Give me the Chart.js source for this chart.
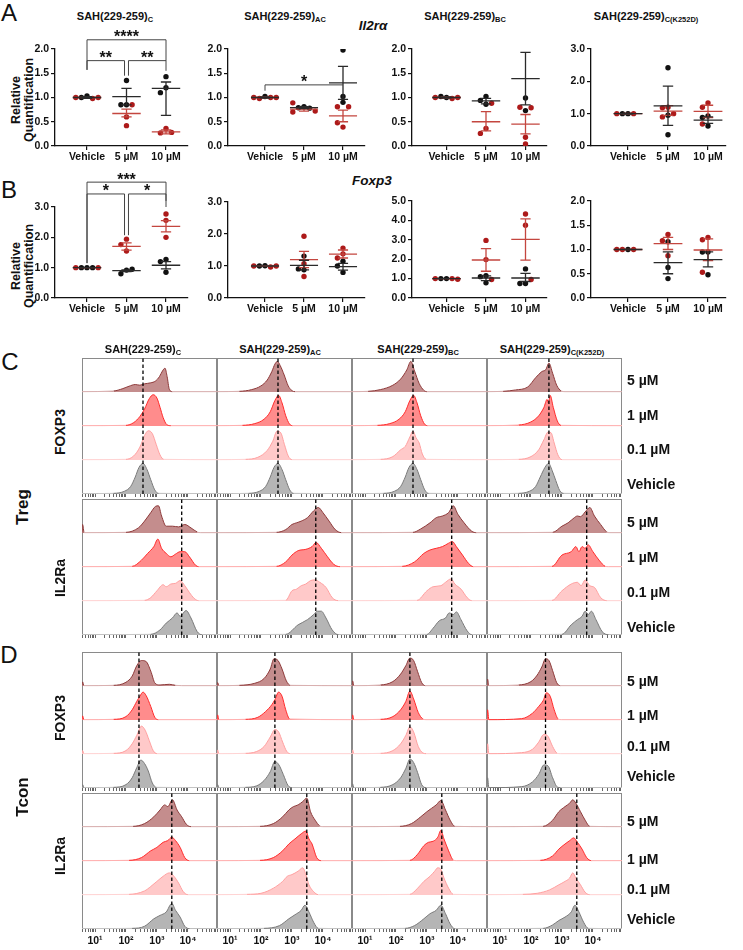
<!DOCTYPE html>
<html lang="en">
<head>
<meta charset="UTF-8">
<title>SAH(229-259) peptides: Il2ra / Foxp3</title>
<script src="https://cdn.jsdelivr.net/npm/chart.js"></script>
<style>
  body { margin: 0; width: 743px; height: 950px; position: relative; background: #fff; overflow: hidden;
         font-family: "Liberation Sans", Arial, sans-serif; color: #111; }
  canvas { position: absolute; }
  .t { position: absolute; white-space: nowrap; font-weight: bold; transform: translate(-50%, -50%); line-height: 1; }
  .t sub { font-size: 0.68em; vertical-align: -0.25em; }
  .rot { transform: translate(-50%, -50%) rotate(-90deg); }
  .letter { font-weight: normal; font-size: 24px; }
</style>
</head>
<body>
<script>
// ---------- data: qPCR relative quantification (A: Il2ra, B: Foxp3) ----------
const doseLabels = ['Vehicle', '5 µM', '10 µM'];
const peptideNames = ['C', 'AC', 'BC', 'C(K252D)'];

// each category: values of the black and the red experiment; Sem rows = [mean, upper, lower]
const il2raC_black = [[1.03, 1.0], [1.35, 0.85, 0.85], [1.43, 1.2, 1.1]];
const il2raC_red = [[0.98, 1.0, 1.0], [0.85, 0.6, 0.42], [0.36, 0.27, 0.28]];
const il2raC_blackSem = [[1.0, 1.02, 0.98], [1.02, 1.19, 0.85], [1.19, 1.32, 0.63]];
const il2raC_redSem = [[1.0, 1.01, 0.99], [0.67, 0.76, 0.6], [0.29, 0.33, 0.25]];

const il2raAC_black = [[1.02], [0.81, 0.79, 0.78], [1.98, 1.02, 0.9]];
const il2raAC_red = [[0.98, 1.0, 1.0, 1.0], [0.89, 0.7, 0.72], [0.81, 0.81, 0.39, 0.48]];
const il2raAC_blackSem = [[1.0, 1.01, 0.99], [0.79, 0.81, 0.77], [1.3, 1.64, 0.96]];
const il2raAC_redSem = [[1.0, 1.01, 0.99], [0.76, 0.8, 0.72], [0.62, 0.74, 0.5]];

const il2raBC_black = [[1.0, 1.02], [1.02, 0.94, 0.86], [0.99, 0.73]];
const il2raBC_red = [[0.98, 1.0, 1.0], [0.88, 0.36, 0.26], [0.8, 0.79, 0.18, 0.04]];
const il2raBC_blackSem = [[1.0, 1.01, 0.99], [0.93, 0.98, 0.87], [1.39, 1.93, 0.85]];
const il2raBC_redSem = [[1.0, 1.01, 0.99], [0.5, 0.71, 0.31], [0.45, 0.65, 0.25]];

const il2raK_black = [[1.0, 1.0], [2.42, 0.95, 0.35], [0.93, 0.88, 0.62]];
const il2raK_red = [[1.0, 1.0], [1.2, 1.18, 0.9, 1.0], [1.33, 1.2, 0.68]];
const il2raK_blackSem = [[1.0, 1.01, 0.99], [1.24, 1.85, 0.64], [0.8, 0.9, 0.7]];
const il2raK_redSem = [[1.0, 1.01, 0.99], [1.08, 1.25, 0.95], [1.07, 1.26, 0.88]];

const foxp3C_black = [[1.0, 1.0, 1.0], [0.92, 0.8, 0.95], [1.27, 1.2, 0.85]];
const foxp3C_red = [[1.0, 1.0], [1.94, 1.76, 1.55], [2.77, 2.56, 2.0]];
const foxp3C_blackSem = [[1.0, 1.0, 1.0], [0.9, 0.93, 0.87], [1.08, 1.2, 0.96]];
const foxp3C_redSem = [[1.0, 1.0, 1.0], [1.7, 1.82, 1.58], [2.36, 2.55, 2.18]];

const foxp3AC_black = [[1.01, 1.0], [1.31, 0.88, 0.91], [1.15, 1.0, 0.8]];
const foxp3AC_red = [[0.97, 1.0, 1.0], [1.93, 0.67, 1.07], [1.56, 1.38, 1.25]];
const foxp3AC_blackSem = [[1.0, 1.0, 1.0], [1.02, 1.18, 0.88], [0.98, 1.08, 0.87]];
const foxp3AC_redSem = [[1.0, 1.0, 1.0], [1.2, 1.46, 0.95], [1.37, 1.5, 1.25]];

const foxp3BC_black = [[1.0, 1.0], [1.15, 1.1, 0.78], [1.5, 0.75, 0.75]];
const foxp3BC_red = [[1.0, 1.0, 0.97], [2.97, 1.98, 0.95], [4.33, 3.75, 0.95]];
const foxp3BC_blackSem = [[1.0, 1.0, 1.0], [1.03, 1.14, 0.9], [1.03, 1.27, 0.85]];
const foxp3BC_redSem = [[1.0, 1.0, 1.0], [1.96, 2.55, 1.38], [3.02, 4.08, 1.95]];

const foxp3K_black = [[1.0], [1.16, 0.63, 0.4], [0.95, 0.95, 0.48]];
const foxp3K_red = [[1.0, 1.0, 1.0], [1.31, 1.18, 0.87], [1.25, 1.2, 0.53]];
const foxp3K_blackSem = [[1.0, 1.0, 1.0], [0.73, 0.95, 0.5], [0.79, 0.95, 0.64]];
const foxp3K_redSem = [[1.0, 1.0, 1.0], [1.12, 1.25, 1.0], [0.99, 1.22, 0.77]];

// significance brackets: [label, from, to, level, leg bottom at from, leg bottom at to]
const il2raC_brackets = [['****', 0, 2, 2.19, 1.57, 1.55], ['**', 0, 1, 1.76, 1.57, 1.45], ['**', 1, 2, 1.76, 1.45, 1.76]];
const il2raAC_brackets = [['*', 0, 2, 1.26, 1.14, 1.26]];
const foxp3C_brackets = [['***', 0, 2, 3.82, 1.15, 3.2], ['*', 0, 1, 3.43, 1.15, 2.07], ['*', 1, 2, 3.43, 2.07, 3.0]];

// ---------- data: flow histograms, x = log10 intensity, h = modal height; rows 5 µM, 1 µM, 0.1 µM, Vehicle ----------
const histRows = ['5 µM', '1 µM', '0.1 µM', 'Vehicle'];
const tregFoxp3_C = [
  [1.6,.03, 1.9,.1, 2.1,.17, 2.3,.22, 2.45,.2, 2.6,.24, 2.8,.27, 2.95,.32, 3.08,.45, 3.18,.62, 3.26,.7, 3.33,.45, 3.4,.08, 3.5,.01],
  [2.0,.02, 2.25,.1, 2.45,.28, 2.6,.5, 2.75,.8, 2.88,.92, 3.0,.82, 3.1,.55, 3.2,.25, 3.32,.04, 3.45,.01],
  [2.0,.02, 2.25,.12, 2.45,.38, 2.6,.72, 2.72,.86, 2.85,.78, 2.98,.45, 3.1,.15, 3.22,.02],
  [1.6,.02, 1.95,.08, 2.15,.22, 2.3,.5, 2.42,.78, 2.55,.9, 2.68,.72, 2.8,.42, 2.93,.12, 3.05,.02]];
const tregFoxp3_AC = [
  [1.3,.02, 1.7,.07, 2.0,.18, 2.2,.35, 2.35,.6, 2.45,.82, 2.53,.9, 2.62,.78, 2.75,.5, 2.88,.18, 3.0,.04, 3.1,.01],
  [1.4,.02, 1.8,.07, 2.1,.2, 2.3,.42, 2.45,.75, 2.57,.9, 2.68,.68, 2.8,.3, 2.92,.06, 3.02,.01],
  [1.5,.02, 1.9,.08, 2.2,.28, 2.38,.55, 2.52,.85, 2.64,.8, 2.76,.45, 2.88,.12, 3.0,.01],
  [1.6,.02, 1.95,.08, 2.15,.22, 2.3,.5, 2.42,.78, 2.55,.9, 2.68,.72, 2.8,.42, 2.93,.12, 3.05,.02]];
const tregFoxp3_BC = [
  [1.1,.02, 1.5,.07, 1.9,.2, 2.15,.38, 2.35,.65, 2.48,.9, 2.6,.62, 2.75,.25, 2.9,.05, 3.0,.01],
  [1.4,.02, 1.8,.07, 2.1,.2, 2.3,.42, 2.45,.75, 2.57,.9, 2.68,.68, 2.8,.3, 2.92,.06, 3.02,.01],
  [1.5,.02, 1.9,.1, 2.15,.3, 2.3,.4, 2.45,.68, 2.55,.85, 2.65,.65, 2.75,.5, 2.85,.18, 2.98,.02],
  [1.6,.02, 1.95,.08, 2.15,.22, 2.3,.5, 2.42,.78, 2.55,.9, 2.68,.72, 2.8,.42, 2.93,.12, 3.05,.02]];
const tregFoxp3_K = [
  [1.1,.02, 1.5,.06, 1.9,.15, 2.15,.42, 2.35,.6, 2.48,.66, 2.58,.85, 2.7,.55, 2.83,.2, 2.98,.03, 3.1,.01],
  [1.6,.03, 2.0,.12, 2.25,.3, 2.42,.55, 2.52,.78, 2.56,.68, 2.62,.9, 2.72,.55, 2.85,.15, 2.97,.02],
  [1.6,.02, 2.0,.1, 2.25,.3, 2.42,.6, 2.55,.82, 2.65,.8, 2.75,.5, 2.87,.15, 3.0,.01],
  [1.6,.02, 1.95,.08, 2.15,.22, 2.3,.5, 2.45,.78, 2.57,.9, 2.68,.7, 2.8,.4, 2.93,.1, 3.05,.02]];

const tregIl2ra_C = [
  [0.6,.25, 0.65,.01, 2.0,.02, 2.4,.15, 2.6,.35, 2.8,.6, 2.95,.78, 3.05,.8, 3.15,.5, 3.3,.2, 3.5,.2, 3.7,.18, 3.9,.25, 4.1,.15, 4.3,.03, 4.4,.01],
  [2.2,.02, 2.5,.2, 2.7,.4, 2.9,.6, 3.03,.82, 3.15,.55, 3.3,.4, 3.45,.3, 3.6,.38, 3.75,.45, 3.9,.45, 4.05,.3, 4.25,.05, 4.35,.01],
  [2.6,.02, 2.8,.1, 3.0,.3, 3.2,.48, 3.3,.42, 3.45,.5, 3.6,.52, 3.75,.6, 3.9,.45, 4.05,.25, 4.2,.08, 4.35,.01],
  [2.8,.02, 3.1,.15, 3.3,.35, 3.5,.5, 3.65,.65, 3.75,.55, 3.94,.72, 4.1,.5, 4.3,.1, 4.45,.01]];
const tregIl2ra_AC = [
  [2.5,.02, 2.8,.1, 3.0,.25, 3.15,.3, 3.3,.35, 3.5,.45, 3.7,.65, 3.85,.75, 4.0,.6, 4.2,.35, 4.4,.1, 4.6,.01],
  [2.5,.02, 2.8,.15, 3.0,.35, 3.2,.48, 3.45,.52, 3.65,.6, 3.78,.72, 3.95,.55, 4.15,.3, 4.35,.08, 4.55,.01],
  [2.8,.02, 3.0,.3, 3.15,.35, 3.3,.45, 3.45,.5, 3.6,.6, 3.75,.62, 3.9,.55, 4.1,.4, 4.3,.1, 4.5,.01],
  [2.8,.02, 3.2,.3, 3.5,.45, 3.7,.6, 3.82,.7, 3.95,.7, 4.1,.5, 4.3,.15, 4.5,.01]];
const tregIl2ra_BC = [
  [2.55,.02, 2.8,.12, 3.1,.3, 3.3,.45, 3.5,.5, 3.7,.6, 3.85,.8, 4.0,.55, 4.2,.3, 4.45,.05, 4.6,.01],
  [2.2,.02, 2.6,.15, 2.9,.4, 3.1,.5, 3.3,.55, 3.5,.6, 3.7,.7, 3.82,.75, 3.95,.6, 4.15,.35, 4.35,.1, 4.5,.01],
  [2.68,.02, 3.0,.3, 3.2,.42, 3.45,.45, 3.6,.55, 3.78,.65, 3.9,.5, 4.1,.35, 4.3,.1, 4.45,.01],
  [3.0,.02, 3.2,.2, 3.4,.42, 3.6,.5, 3.72,.65, 3.85,.6, 3.95,.68, 4.1,.45, 4.3,.12, 4.45,.01]];
const tregIl2ra_K = [
  [2.7,.02, 3.0,.2, 3.2,.3, 3.4,.45, 3.5,.5, 3.6,.48, 3.75,.62, 3.9,.75, 4.05,.5, 4.25,.25, 4.45,.03, 4.55,.01],
  [2.68,.02, 3.0,.35, 3.3,.45, 3.45,.6, 3.55,.45, 3.65,.6, 3.75,.55, 3.85,.65, 4.0,.45, 4.2,.2, 4.4,.02, 4.5,.01],
  [2.68,.02, 3.0,.3, 3.3,.5, 3.5,.55, 3.62,.45, 3.75,.62, 3.9,.45, 4.05,.4, 4.25,.1, 4.45,.01],
  [3.0,.02, 3.3,.3, 3.5,.45, 3.65,.55, 3.75,.7, 3.85,.6, 3.95,.7, 4.1,.45, 4.3,.1, 4.5,.01]];

const tconFoxp3_C = [
  [0.6,.12, 0.64,.01, 1.6,.02, 2.0,.11, 2.2,.29, 2.35,.6, 2.5,.75, 2.65,.72, 2.8,.44, 2.94,.08, 3.1,.03, 3.4,.05, 3.6,.02, 3.8,.01],
  [0.6,.12, 0.64,.01, 1.6,.02, 2.0,.1, 2.2,.3, 2.35,.55, 2.45,.7, 2.55,.82, 2.65,.72, 2.8,.4, 2.93,.08, 3.05,.01],
  [0.6,.1, 0.64,.01, 1.6,.02, 2.0,.1, 2.2,.3, 2.35,.55, 2.5,.82, 2.62,.7, 2.75,.4, 2.88,.1, 3.0,.01],
  [0.6,.1, 0.64,.01, 1.6,.02, 2.0,.1, 2.2,.3, 2.35,.6, 2.48,.82, 2.6,.72, 2.72,.5, 2.85,.15, 2.98,.02]];
const tconFoxp3_AC = [
  [0.6,.1, 0.64,.01, 1.3,.02, 1.8,.08, 2.1,.22, 2.3,.5, 2.42,.8, 2.55,.75, 2.68,.5, 2.82,.15, 2.95,.02],
  [0.6,.15, 0.64,.01, 1.5,.02, 1.9,.08, 2.15,.25, 2.35,.45, 2.45,.6, 2.57,.82, 2.68,.7, 2.8,.3, 2.93,.03],
  [0.6,.12, 0.64,.01, 1.5,.02, 1.85,.07, 2.1,.22, 2.3,.5, 2.45,.72, 2.57,.65, 2.7,.35, 2.83,.08, 2.95,.01],
  [0.6,.1, 0.64,.01, 1.5,.02, 1.85,.06, 2.1,.22, 2.3,.48, 2.45,.78, 2.58,.68, 2.72,.4, 2.87,.08, 3.0,.01]];
const tconFoxp3_BC = [
  [0.6,.15, 0.64,.01, 1.5,.03, 1.9,.13, 2.15,.35, 2.32,.6, 2.45,.82, 2.57,.75, 2.7,.42, 2.83,.1, 2.95,.01],
  [0.6,.15, 0.64,.01, 1.5,.02, 1.9,.1, 2.15,.3, 2.32,.55, 2.45,.85, 2.57,.62, 2.72,.22, 2.87,.03, 2.97,.01],
  [0.6,.12, 0.64,.01, 1.5,.02, 1.9,.1, 2.15,.3, 2.32,.55, 2.45,.8, 2.57,.65, 2.72,.22, 2.87,.03, 2.97,.01],
  [0.6,.12, 0.64,.01, 1.5,.02, 1.9,.1, 2.15,.3, 2.32,.58, 2.45,.85, 2.57,.75, 2.7,.45, 2.83,.1, 2.97,.01]];
const tconFoxp3_K = [
  [0.6,.2, 0.64,.01, 1.6,.03, 2.0,.13, 2.2,.32, 2.35,.56, 2.47,.8, 2.58,.75, 2.7,.45, 2.83,.1, 2.95,.01],
  [0.6,.3, 0.64,.01, 1.7,.04, 2.05,.2, 2.25,.4, 2.4,.58, 2.5,.8, 2.62,.7, 2.75,.3, 2.88,.03, 2.98,.01],
  [0.6,.3, 0.64,.01, 1.7,.04, 2.05,.14, 2.25,.35, 2.42,.58, 2.55,.52, 2.7,.22, 2.85,.02, 2.95,.01],
  [0.6,.3, 0.64,.01, 1.7,.04, 2.05,.18, 2.25,.4, 2.42,.68, 2.55,.65, 2.7,.3, 2.85,.03, 2.95,.01]];

const tconIl2ra_C = [
  [2.23,.02, 2.6,.1, 2.9,.3, 3.1,.5, 3.25,.65, 3.35,.6, 3.5,.8, 3.65,.5, 3.8,.3, 3.95,.08, 4.1,.01],
  [2.1,.02, 2.5,.1, 2.8,.3, 3.0,.4, 3.2,.55, 3.35,.6, 3.48,.7, 3.6,.6, 3.75,.4, 3.9,.1, 4.05,.01],
  [2.1,.02, 2.6,.12, 2.8,.25, 3.0,.4, 3.2,.55, 3.4,.65, 3.55,.55, 3.7,.35, 3.85,.1, 4.0,.01],
  [2.2,.02, 2.6,.08, 2.9,.3, 3.1,.4, 3.3,.5, 3.48,.75, 3.6,.55, 3.75,.35, 3.9,.08, 4.05,.01]];
const tconIl2ra_AC = [
  [1.97,.02, 2.4,.1, 2.7,.3, 2.9,.5, 3.05,.6, 3.2,.65, 3.35,.75, 3.48,.85, 3.6,.45, 3.75,.2, 3.9,.03, 4.0,.01],
  [1.97,.02, 2.4,.1, 2.7,.3, 2.9,.5, 3.1,.65, 3.3,.8, 3.45,.88, 3.55,.65, 3.65,.5, 3.8,.1, 3.95,.01],
  [1.55,.02, 2.0,.05, 2.4,.2, 2.7,.4, 2.85,.55, 3.0,.6, 3.2,.7, 3.35,.8, 3.45,.6, 3.55,.3, 3.7,.1, 3.85,.01],
  [2.1,.02, 2.6,.1, 2.9,.3, 3.1,.42, 3.3,.55, 3.42,.7, 3.55,.5, 3.7,.2, 3.85,.02]];
const tconIl2ra_BC = [
  [2.13,.02, 2.5,.1, 2.8,.3, 3.0,.45, 3.15,.55, 3.3,.65, 3.45,.78, 3.6,.5, 3.75,.2, 3.9,.02],
  [2.45,.02, 2.7,.2, 2.9,.45, 3.05,.55, 3.2,.58, 3.35,.7, 3.45,.9, 3.55,.65, 3.7,.3, 3.85,.03, 3.95,.01],
  [2.45,.02, 2.7,.2, 2.9,.4, 3.1,.55, 3.25,.7, 3.35,.8, 3.45,.75, 3.55,.5, 3.7,.2, 3.85,.02],
  [2.3,.02, 2.6,.1, 2.9,.3, 3.1,.45, 3.3,.55, 3.45,.7, 3.6,.45, 3.75,.15, 3.9,.01]];
const tconIl2ra_K = [
  [2.39,.02, 2.7,.2, 2.9,.45, 3.1,.6, 3.25,.7, 3.35,.8, 3.45,.7, 3.6,.45, 3.75,.2, 3.9,.02],
  [2.3,.02, 2.7,.15, 2.9,.35, 3.1,.5, 3.25,.6, 3.38,.68, 3.5,.55, 3.65,.35, 3.8,.1, 3.95,.01],
  [1.74,.02, 2.2,.05, 2.6,.15, 2.9,.3, 3.1,.4, 3.25,.5, 3.35,.65, 3.45,.5, 3.6,.3, 3.75,.08, 3.9,.01],
  [2.4,.02, 2.7,.12, 2.9,.25, 3.1,.35, 3.3,.5, 3.42,.7, 3.55,.5, 3.7,.2, 3.85,.02]];

// median markers (dashed lines), one per peptide column
const tregFoxp3_median = [2.55, 2.55, 2.55, 2.58];
const tregIl2ra_median = [3.8, 3.77, 3.8, 3.8];
const tconFoxp3_median = [2.42, 2.45, 2.45, 2.47];
const tconIl2ra_median = [3.48, 3.48, 3.48, 3.48];
const flowDecades = ['10⁰', '10¹', '10²', '10³', '10⁴'];

// ---------- layout ----------
Chart.defaults.font.family = '"Liberation Sans", Arial, sans-serif';
Chart.defaults.color = '#111';

const colAxis = [55, 228, 412, 591];
const colVeh = [87, 265, 446.5, 628];
const colUnit = [39.5, 39, 39.5, 40];
const colRight = [188, 365, 547, 726];

function txt(html, x, y, size, extra) {
  const d = document.createElement('div');
  d.className = 't' + (extra ? ' ' + extra : '');
  d.style.left = x + 'px';
  d.style.top = y + 'px';
  d.style.fontSize = size + 'px';
  d.innerHTML = html;
  document.body.appendChild(d);
  return d;
}

// spread equal-ish values sideways like a Prism scatter dot plot
function swarm(black, red, ypx, xpx) {
  const out = { black: [], red: [] };
  const d = 5.6;
  [0, 1, 2].forEach(c => {
    const placed = [];
    [['black', black[c]], ['red', red[c]]].forEach(([key, vals]) => {
      vals.forEach(v => {
        let k = 0, off = 0;
        while (true) {
          off = (k % 2 ? -1 : 1) * Math.ceil(k / 2) * d;
          const ok = placed.every(p => Math.hypot(p[0] - off, (p[1] - v) * ypx) >= d);
          if (ok || k > 10) break;
          k++;
        }
        placed.push([off, v]);
        out[key].push({ x: c + off / xpx, y: v });
      });
    });
  });
  return out;
}

const semPlugin = {
  id: 'sem',
  afterDatasetsDraw(chart, args, o) {
    const { ctx, scales: { x, y } } = chart;
    ctx.save();
    ctx.lineWidth = 1.3;
    o.groups.forEach(g => {
      ctx.strokeStyle = g.color;
      g.stats.forEach(([m, hi, lo], i) => {
        const cx = x.getPixelForValue(i);
        const hw = x.getPixelForValue(i + 0.36) - cx;
        const cw = x.getPixelForValue(i + 0.13) - cx;
        ctx.beginPath();
        ctx.moveTo(cx - hw, y.getPixelForValue(m)); ctx.lineTo(cx + hw, y.getPixelForValue(m));
        ctx.moveTo(cx, y.getPixelForValue(lo)); ctx.lineTo(cx, y.getPixelForValue(hi));
        ctx.moveTo(cx - cw, y.getPixelForValue(hi)); ctx.lineTo(cx + cw, y.getPixelForValue(hi));
        ctx.moveTo(cx - cw, y.getPixelForValue(lo)); ctx.lineTo(cx + cw, y.getPixelForValue(lo));
        ctx.stroke();
      });
    });
    ctx.strokeStyle = '#444';
    ctx.fillStyle = '#111';
    ctx.lineWidth = 1;
    ctx.font = 'bold 16px "Liberation Sans", Arial';
    ctx.textAlign = 'center';
    (o.brackets || []).forEach(([label, a, b, lev, loA, loB]) => {
      const xa = x.getPixelForValue(a + (a === 1 ? 0.05 : 0));
      const xb = x.getPixelForValue(b - (b === 1 ? 0.05 : 0));
      const yl = y.getPixelForValue(lev);
      ctx.beginPath();
      ctx.moveTo(xa, y.getPixelForValue(loA)); ctx.lineTo(xa, yl);
      ctx.lineTo(xb, yl); ctx.lineTo(xb, y.getPixelForValue(loB));
      ctx.stroke();
      ctx.fillText(label, (xa + xb) / 2, yl + 2.5);
    });
    ctx.restore();
  }
};

function makeScatter(col, yTop, yBot, ymax, step, black, red, blackSem, redSem, brackets) {
  const YW = 36, XH = 24, PT = 42, PR = 6;
  const x0 = colAxis[col], x1 = colRight[col];
  const cv = document.createElement('canvas');
  cv.width = YW + (x1 - x0) + PR;
  cv.height = PT + (yBot - yTop) + XH;
  cv.style.left = (x0 - YW) + 'px';
  cv.style.top = (yTop - PT) + 'px';
  document.body.appendChild(cv);
  const unit = colUnit[col];
  const xmin = -(colVeh[col] - x0) / unit, xmax = (x1 - colVeh[col]) / unit;
  const pts = swarm(black, red, (yBot - yTop) / ymax, unit);
  const axisGrid = { drawOnChartArea: false, tickLength: 4, color: '#111', lineWidth: 1.2 };
  const tickFont = { size: 10.5, weight: 'bold' };
  new Chart(cv, {
    type: 'scatter',
    data: { datasets: [
      { data: pts.black, backgroundColor: '#111', borderWidth: 0, pointRadius: 2.7 },
      { data: pts.red, backgroundColor: '#ad1a1a', borderWidth: 0, pointRadius: 2.7 }
    ] },
    options: {
      responsive: false, animation: false,
      layout: { padding: { top: PT, right: PR, left: 0, bottom: 0 } },
      plugins: {
        legend: { display: false }, tooltip: { enabled: false },
        sem: { groups: [{ stats: redSem, color: '#c4463f' }, { stats: blackSem, color: '#2a2a2a' }], brackets }
      },
      scales: {
        x: {
          type: 'linear', min: xmin, max: xmax,
          afterBuildTicks: s => { s.ticks = doseLabels.map((_, i) => ({ value: i })); },
          afterFit: s => { s.height = XH; },
          ticks: { callback: v => doseLabels[v], font: tickFont, padding: 1, maxRotation: 0, autoSkip: false },
          grid: axisGrid, border: { color: '#111', width: 1.3 }
        },
        y: {
          min: 0, max: ymax,
          afterFit: s => { s.width = YW; },
          ticks: { stepSize: step, callback: v => v.toFixed(1), font: tickFont, padding: 2 },
          grid: axisGrid, border: { color: '#111', width: 1.3 }
        }
      }
    },
    plugins: [semPlugin]
  });
}

// ---------- flow histogram blocks ----------
const flowMin = 0.58, flowMax = 4.94;
const histCols = [82, 217, 352, 487];
const HIST_W = 135, HIST_H = 136;
const rowFill = ['#c48d8d', '#ff8c8c', '#ffc9c9', '#b5b5b5'];
const rowLine = ['#8e3a3a', '#ff2b2b', '#ffa0a0', '#7a7a7a'];
const rowBase = ['#d9b0b0', '#ffb0b0', '#ffd4d4', '#c8c8c8'];

const boxPlugin = {
  id: 'box',
  beforeDatasetsDraw(chart) {
    const { ctx, chartArea: a } = chart;
    ctx.save();
    ctx.strokeStyle = '#8a8a8a';
    ctx.lineWidth = 1;
    ctx.strokeRect(a.left + 0.5, a.top + 0.5, a.right - a.left - 1, a.bottom - a.top - 1);
    ctx.restore();
  }
};

function flowTicks() {
  const t = [];
  for (let n = 0; n <= 4; n++) {
    for (let k = 1; k <= 9; k++) {
      const v = k === 1 ? n : n + Math.log10(k);
      if (v >= flowMin && v <= flowMax) t.push({ value: v, lbl: k === 1 ? flowDecades[n] : '' });
    }
  }
  return t;
}

function makeHist(col, top, rows, median, withLabels) {
  const PL = 6, PR = 6, XH = withLabels ? 20 : 5;
  const cv = document.createElement('canvas');
  cv.width = HIST_W + PL + PR;
  cv.height = HIST_H + XH + 1;
  cv.style.left = (histCols[col] - PL) + 'px';
  cv.style.top = (top - 1) + 'px';
  document.body.appendChild(cv);
  const datasets = rows.map((flat, r) => {
    const base = 3 - r;
    const pts = [];
    for (let i = 0; i < flat.length; i += 2) pts.push({ x: flat[i], y: base + flat[i + 1] });
    if (pts[0].x > flowMin) pts.unshift({ x: flowMin, y: base + 0.01 });
    pts.push({ x: flowMax, y: base + 0.01 });
    return {
      data: pts, fill: { value: base }, backgroundColor: rowFill[r], borderColor: rowLine[r],
      borderWidth: 1, pointRadius: 0, cubicInterpolationMode: 'monotone',
      segment: { borderColor: c => (c.p0.parsed.y - base < 0.03 && c.p1.parsed.y - base < 0.03) ? rowBase[r] : undefined }
    };
  });
  datasets.push({
    data: [{ x: median, y: 0 }, { x: median, y: 4 }], borderColor: '#000', borderWidth: 1.3,
    borderDash: [3.5, 2.5], pointRadius: 0, fill: false, order: -1
  });
  new Chart(cv, {
    type: 'line',
    data: { datasets },
    options: {
      responsive: false, animation: false,
      layout: { padding: { top: 1, left: PL, right: PR, bottom: 0 } },
      plugins: { legend: { display: false }, tooltip: { enabled: false } },
      scales: {
        x: {
          type: 'linear', min: flowMin, max: flowMax,
          afterBuildTicks: s => { s.ticks = flowTicks(); },
          afterFit: s => { s.height = XH; },
          ticks: { display: withLabels, callback: (v, i, t) => t[i].lbl, font: { size: 10.5, weight: 'bold' },
                   padding: 3, maxRotation: 0, autoSkip: false },
          grid: { drawOnChartArea: false, tickLength: 3, color: '#666' },
          border: { display: false }
        },
        y: { display: false, min: 0, max: 4 }
      }
    },
    plugins: [boxPlugin]
  });
}

// ---------- panel A & B ----------
txt('A', 9, 12.5, 24, 'letter');
txt('B', 9, 189.5, 24, 'letter');
[115, 285, 465, 646].forEach((cx, i) => txt('SAH(229-259)<sub>' + peptideNames[i] + '</sub>', cx, 17, 11));
txt('<i>Il2r&alpha;</i>', 373, 26, 13.5);
txt('<i>Foxp3</i>', 372, 181, 13.5);
txt('Relative<br>Quantification', 22, 100, 12.5, 'rot').style.textAlign = 'center';
txt('Relative<br>Quantification', 22, 266, 12.5, 'rot').style.textAlign = 'center';

makeScatter(0, 49, 146, 2, 0.5, il2raC_black, il2raC_red, il2raC_blackSem, il2raC_redSem, il2raC_brackets);
makeScatter(1, 48.5, 146, 2, 0.5, il2raAC_black, il2raAC_red, il2raAC_blackSem, il2raAC_redSem, il2raAC_brackets);
makeScatter(2, 48.5, 146, 2, 0.5, il2raBC_black, il2raBC_red, il2raBC_blackSem, il2raBC_redSem, []);
makeScatter(3, 48.5, 146, 3, 1, il2raK_black, il2raK_red, il2raK_blackSem, il2raK_redSem, []);

makeScatter(0, 207, 298, 3, 1, foxp3C_black, foxp3C_red, foxp3C_blackSem, foxp3C_redSem, foxp3C_brackets);
makeScatter(1, 201.5, 298, 3, 1, foxp3AC_black, foxp3AC_red, foxp3AC_blackSem, foxp3AC_redSem, []);
makeScatter(2, 201, 298, 5, 1, foxp3BC_black, foxp3BC_red, foxp3BC_blackSem, foxp3BC_redSem, []);
makeScatter(3, 201, 298, 2, 0.5, foxp3K_black, foxp3K_red, foxp3K_blackSem, foxp3K_redSem, []);

// ---------- panel C & D ----------
txt('C', 10, 361.5, 24, 'letter');
txt('D', 9, 654.5, 24, 'letter');
[143, 280, 418, 552].forEach((cx, i) => txt('SAH(229-259)<sub>' + peptideNames[i] + '</sub>', cx, 350, 11));

const blocks = [
  { top: 358, cols: [tregFoxp3_C, tregFoxp3_AC, tregFoxp3_BC, tregFoxp3_K], med: tregFoxp3_median, rowY: [380, 415, 449, 484], name: 'FOXP3', nameY: 432 },
  { top: 499, cols: [tregIl2ra_C, tregIl2ra_AC, tregIl2ra_BC, tregIl2ra_K], med: tregIl2ra_median, rowY: [522, 557, 592, 627], name: 'IL2Ra', nameY: 578 },
  { top: 652, cols: [tconFoxp3_C, tconFoxp3_AC, tconFoxp3_BC, tconFoxp3_K], med: tconFoxp3_median, rowY: [681, 715, 746, 776], name: 'FOXP3', nameY: 718 },
  { top: 793, cols: [tconIl2ra_C, tconIl2ra_AC, tconIl2ra_BC, tconIl2ra_K], med: tconIl2ra_median, rowY: [821, 859, 889, 919], name: 'IL2Ra', nameY: 856 }
];
blocks.forEach((b, bi) => {
  b.cols.forEach((rows, c) => makeHist(c, b.top, rows, b.med[c], bi === blocks.length - 1));
  b.rowY.forEach((y, r) => {
    const d = txt(histRows[r], 627, y, 14);
    d.style.transform = 'translate(0, -50%)';
  });
  txt(b.name, 60, b.nameY, 14, 'rot');
});
txt('Treg', 22, 507, 17, 'rot');
txt('Tcon', 22, 797, 17, 'rot');
</script>
</body>
</html>
